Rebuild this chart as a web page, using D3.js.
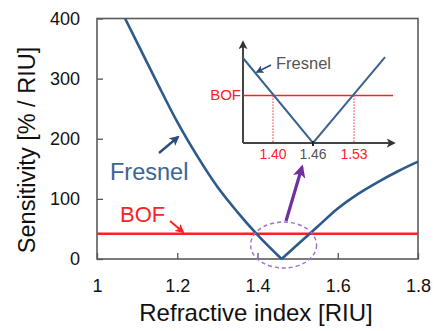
<!DOCTYPE html>
<html>
<head>
<meta charset="utf-8">
<script src="https://cdn.jsdelivr.net/npm/d3@7"></script>
<style>
  body { margin: 0; background: #fff; }
  svg { display: block; font-family: Arial, "Liberation Sans", sans-serif; }
</style>
</head>
<body>
<svg id="chart" width="436" height="331"></svg>
<script>
// Fresnel sensitivity, one array per branch
var leftIndex  = [1.07, 1.10, 1.15, 1.20, 1.25, 1.30, 1.35, 1.40, 1.46];
var leftSens   = [400, 360, 293, 228, 171, 120, 78, 40, 0];
var rightIndex = [1.46, 1.50, 1.53, 1.55, 1.60, 1.65, 1.70, 1.75, 1.80];
var rightSens  = [0, 24, 42, 54, 84, 108, 128, 146, 162];
var bofSens = 42;

var xTicks = [1, 1.2, 1.4, 1.6, 1.8];
var yTicks = [0, 100, 200, 300, 400];

// schematic inset
var insetIndex = [1.355, 1.46, 1.583];
var insetSens  = [1, 0, 1.01];
var insetBof = 0.56;
var insetTicks = [1.40, 1.46, 1.53];

var blue = '#2c5a8c', red = '#ff2121', purple = '#7030a0';

var svg = d3.select('#chart');
var x = d3.scaleLinear().domain([1, 1.8]).range([97, 418]);
var y = d3.scaleLinear().domain([0, 400]).range([259, 18.5]);

var defs = svg.append('defs');
function head(id, color, size) {
    defs.append('marker')
        .attr('id', id)
        .attr('viewBox', '0 0 10 10')
        .attr('refX', 8).attr('refY', 5)
        .attr('markerUnits', 'userSpaceOnUse')
        .attr('markerWidth', size).attr('markerHeight', size)
        .attr('orient', 'auto')
        .append('path')
        .attr('d', 'M0,0 L10,5 L0,10 L2.5,5 z')
        .attr('fill', color);
}
head('hBlue', '#2a4d7a', 10);
head('hRed', red, 9);
head('hPurple', purple, 13);
head('hGrey', '#333', 9);
head('hInset', '#2a4d7a', 8);

// axes frame
svg.append('g')
    .attr('transform', 'translate(0,' + y(0) + ')')
    .call(d3.axisBottom(x).tickValues(xTicks).tickSize(-6).tickPadding(20)
        .tickFormat(d3.format('')))
    .call(function(g) {
        g.select('.domain').remove();
        g.selectAll('.tick line').attr('stroke', '#555').attr('stroke-width', 1.3);
        g.selectAll('.tick text').attr('font-size', 18).attr('fill', '#111');
    });

svg.append('g')
    .attr('transform', 'translate(' + x(1) + ',0)')
    .call(d3.axisLeft(y).tickValues(yTicks).tickSize(-6).tickPadding(17))
    .call(function(g) {
        g.select('.domain').remove();
        g.selectAll('.tick line').attr('stroke', '#555').attr('stroke-width', 1.3);
        g.selectAll('.tick text').attr('font-size', 18).attr('fill', '#111');
    });

svg.append('rect')
    .attr('x', x(1)).attr('y', y(400))
    .attr('width', x(1.8) - x(1)).attr('height', y(0) - y(400))
    .attr('fill', 'none').attr('stroke', '#5a5a5a').attr('stroke-width', 1.6);

// BOF line
svg.append('line')
    .attr('x1', x(1)).attr('x2', x(1.8))
    .attr('y1', y(bofSens)).attr('y2', y(bofSens))
    .attr('stroke', red).attr('stroke-width', 2.6);

// Fresnel curve
var line = d3.line()
    .x(function(d) { return x(d[0]); })
    .y(function(d) { return y(d[1]); })
    .curve(d3.curveMonotoneX);

[d3.zip(leftIndex, leftSens), d3.zip(rightIndex, rightSens)].forEach(function(branch) {
    svg.append('path')
        .attr('d', line(branch))
        .attr('fill', 'none')
        .attr('stroke', blue)
        .attr('stroke-width', 2.6);
});

// labels on the main plot
svg.append('text').attr('x', 110).attr('y', 180)
    .attr('font-size', 23.5).attr('fill', '#3b6594').text('Fresnel');
svg.append('line')
    .attr('x1', 159).attr('y1', 153).attr('x2', 178).attr('y2', 137)
    .attr('stroke', '#2a4d7a').attr('stroke-width', 2.4).attr('marker-end', 'url(#hBlue)');

svg.append('text').attr('x', 120).attr('y', 222)
    .attr('font-size', 22).attr('fill', red).text('BOF');
svg.append('line')
    .attr('x1', 170).attr('y1', 221).attr('x2', 183).attr('y2', 232)
    .attr('stroke', red).attr('stroke-width', 2).attr('marker-end', 'url(#hRed)');

// zoom hint
svg.append('ellipse')
    .attr('cx', x(1.465)).attr('cy', 245).attr('rx', 33).attr('ry', 23)
    .attr('fill', 'none').attr('stroke', '#9a6fd0').attr('stroke-width', 1.4)
    .attr('stroke-dasharray', '4,3');
svg.append('line')
    .attr('x1', 286).attr('y1', 221).attr('x2', 302).attr('y2', 167)
    .attr('stroke', purple).attr('stroke-width', 3.2).attr('marker-end', 'url(#hPurple)');

// axis titles
svg.append('text')
    .attr('transform', 'translate(35,150) rotate(-90)')
    .attr('text-anchor', 'middle').attr('font-size', 23.5).attr('fill', '#111')
    .text('Sensitivity [% / RIU]');
svg.append('text')
    .attr('x', 256).attr('y', 321)
    .attr('text-anchor', 'middle').attr('font-size', 24).attr('fill', '#111')
    .text('Refractive index [RIU]');

// inset
var ix = d3.scaleLinear().domain(insetTicks).range([273, 313, 354]);
var iy = d3.scaleLinear().domain([0, 1]).range([143, 58]);
var inset = svg.append('g');

inset.append('line')
    .attr('x1', 243).attr('y1', iy(0)).attr('x2', 243).attr('y2', 42)
    .attr('stroke', '#444').attr('stroke-width', 2).attr('marker-end', 'url(#hGrey)');
inset.append('line')
    .attr('x1', 243).attr('y1', iy(0)).attr('x2', 394).attr('y2', iy(0))
    .attr('stroke', '#444').attr('stroke-width', 2).attr('marker-end', 'url(#hGrey)');

inset.append('line')
    .attr('x1', 243).attr('x2', 393)
    .attr('y1', iy(insetBof)).attr('y2', iy(insetBof))
    .attr('stroke', red).attr('stroke-width', 1.5);

inset.selectAll('.drop')
    .data([insetTicks[0], insetTicks[2]])
    .enter().append('line')
    .attr('x1', function(d) { return ix(d); })
    .attr('x2', function(d) { return ix(d); })
    .attr('y1', iy(insetBof)).attr('y2', iy(0))
    .attr('stroke', red).attr('stroke-width', 1).attr('stroke-dasharray', '1.5,1.5');

inset.append('path')
    .attr('d', d3.line()
        .x(function(d) { return ix(d[0]); })
        .y(function(d) { return iy(d[1]); })(d3.zip(insetIndex, insetSens)))
    .attr('fill', 'none').attr('stroke', '#3a6391').attr('stroke-width', 2);

inset.append('line')
    .attr('x1', ix(1.46)).attr('x2', ix(1.46))
    .attr('y1', iy(0) - 2).attr('y2', iy(0) + 3)
    .attr('stroke', '#222').attr('stroke-width', 2);

inset.selectAll('.itick')
    .data(insetTicks)
    .enter().append('text')
    .attr('x', function(d) { return ix(d); })
    .attr('y', 159)
    .attr('text-anchor', 'middle').attr('font-size', 14)
    .attr('fill', function(d, i) { return i === 1 ? '#555' : red; })
    .text(function(d) { return d3.format('.2f')(d); });

inset.append('text').attr('x', 241).attr('y', 100)
    .attr('text-anchor', 'end').attr('font-size', 15).attr('fill', red).text('BOF');

inset.append('text').attr('x', 276).attr('y', 69)
    .attr('font-size', 16.5).attr('fill', '#555').text('Fresnel');
inset.append('line')
    .attr('x1', 271).attr('y1', 65).attr('x2', 257).attr('y2', 72)
    .attr('stroke', '#2a4d7a').attr('stroke-width', 1.8).attr('marker-end', 'url(#hInset)');
</script>
</body>
</html>
